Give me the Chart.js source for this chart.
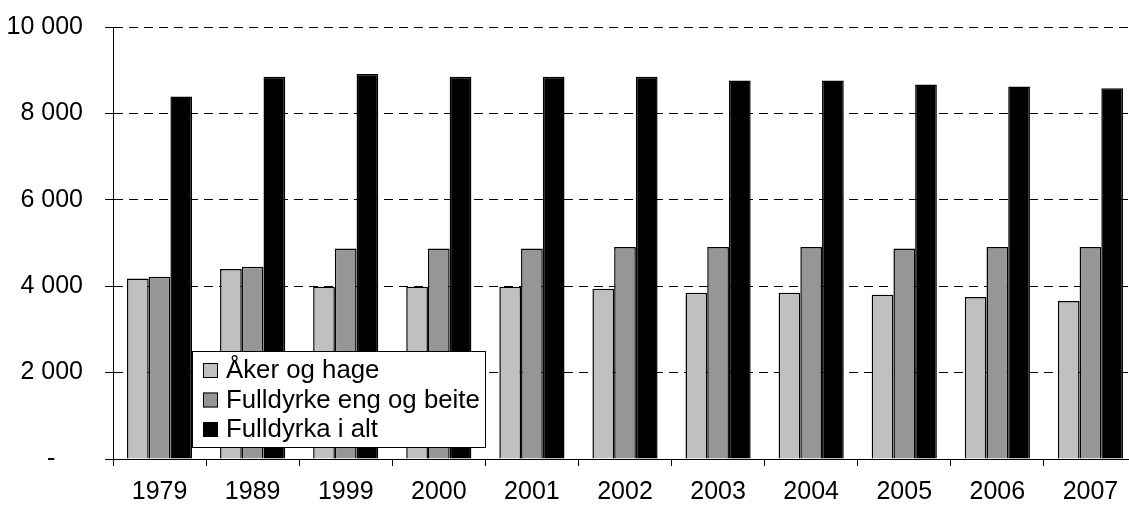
<!DOCTYPE html>
<html>
<head>
<meta charset="utf-8">
<script src="https://cdn.jsdelivr.net/npm/chart.js@4.4.1/dist/chart.umd.min.js"></script>
<style>
    html, body { margin: 0; padding: 0; background: #fff; overflow: hidden; }
    #wrap { position: relative; width: 1137px; height: 506px; }
</style>
</head>
<body>
<div id="wrap"><canvas id="barChart"></canvas></div>
<script>
const years = ['1979', '1989', '1999', '2000', '2001', '2002', '2003', '2004', '2005', '2006', '2007'];
const akerHage = [4180, 4400, 3990, 3990, 3990, 3940, 3850, 3850, 3800, 3750, 3660];
const fulldyrkeEng = [4220, 4450, 4870, 4870, 4870, 4910, 4910, 4910, 4870, 4910, 4910];
const fulldyrkaAlt = [8390, 8850, 8910, 8850, 8850, 8850, 8760, 8760, 8670, 8620, 8580];
const seriesNames = ['Åker og hage', 'Fulldyrke eng og beite', 'Fulldyrka i alt'];
const seriesColors = ['#c0c0c0', '#969696', '#000000'];

const FONT = '"Liberation Sans", Arial, sans-serif';

// legend drawn inside the plot, like the original
const boxLegend = {
    id: 'boxLegend',
    afterDraw(chart) {
        const ctx = chart.ctx;
        const x = 192, y = 351, w = 293, h = 96;
        ctx.save();
        ctx.fillStyle = '#fff';
        ctx.fillRect(x, y, w, h);
        ctx.strokeStyle = '#000';
        ctx.lineWidth = 1;
        ctx.strokeRect(x + 0.5, y + 0.5, w, h);
        ctx.font = '25.8px ' + FONT;
        ctx.textBaseline = 'alphabetic';
        chart.data.datasets.forEach((ds, i) => {
            const base = y + 23 + i * 29.5;
            ctx.fillStyle = ds.backgroundColor;
            ctx.fillRect(203, base - 11, 15, 15);
            ctx.strokeStyle = '#000';
            ctx.strokeRect(203.5, base - 10.5, 14, 14);
            ctx.fillStyle = '#000';
            ctx.fillText(ds.label, 226, base + 4);
        });
        ctx.restore();
    }
};

const ctx = document.getElementById('barChart').getContext('2d');
const data = {
    labels: years,
    datasets: [akerHage, fulldyrkeEng, fulldyrkaAlt].map((vals, i) => ({
        label: seriesNames[i],
        data: vals,
        backgroundColor: seriesColors[i],
        borderColor: '#000',
        borderWidth: 1.5,
        categoryPercentage: 0.7,
        barPercentage: 1.0
    }))
};

new Chart(ctx, {
    type: 'bar',
    data: data,
    plugins: [boxLegend],
    options: {
        responsive: true,
        maintainAspectRatio: false,
        animation: false,
        layout: { padding: { top: 27, left: 0, right: 0, bottom: 0 } },
        plugins: {
            legend: { display: false },
            tooltip: { enabled: false }
        },
        scales: {
            x: {
                afterFit: (scale) => { scale.height = 47; },
                grid: {
                    display: true,
                    drawOnChartArea: false,
                    drawTicks: true,
                    tickLength: 7,
                    tickColor: '#000',
                    offset: true
                },
                border: { display: true, color: '#000', width: 1 },
                ticks: {
                    color: '#000',
                    padding: 11,
                    maxRotation: 0,
                    font: { family: FONT, size: 25 }
                }
            },
            y: {
                min: 0,
                max: 10000,
                afterFit: (scale) => {
                    scale.width = 113;
                    scale.paddingTop = 0;
                    scale.paddingBottom = 0;
                },
                grid: {
                    color: '#000',
                    lineWidth: 1,
                    drawTicks: true,
                    tickLength: 8,
                    tickColor: '#000'
                },
                border: { display: true, color: '#000', width: 1, dash: [9, 6] },
                ticks: {
                    stepSize: 2000,
                    color: '#000',
                    padding: 22,
                    font: { family: FONT, size: 25 },
                    callback: function (value) {
                        if (value === 0) return '-    ';
                        return String(value).replace(/\B(?=(\d{3})+(?!\d))/g, ' ');
                    }
                }
            }
        }
    }
});
</script>
</body>
</html>
